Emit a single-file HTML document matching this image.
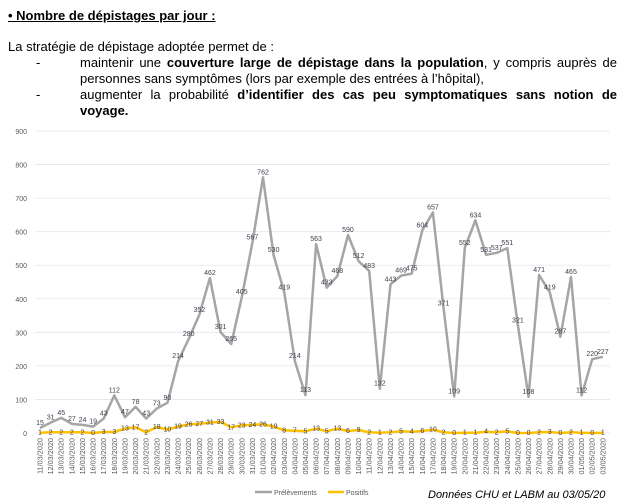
<!DOCTYPE html>
<html><head><meta charset="utf-8"><style>
body{margin:0;width:625px;height:502px;background:#fff;font-family:"Liberation Sans",sans-serif;color:#000;overflow:hidden;position:relative}
.t{position:absolute;font-size:13px;line-height:16px;white-space:nowrap}
</style></head><body>
<div class="t" style="left:8px;top:8px;font-weight:bold;text-decoration:underline">• Nombre de dépistages par jour :</div>
<div class="t" style="left:8px;top:39px">La stratégie de dépistage adoptée permet de :</div>
<div class="t" style="left:36px;top:55px">-</div>
<div class="t" style="left:80px;top:55px;width:537px;text-align:justify;text-align-last:justify">maintenir une <b>couverture large de dépistage dans la population</b>, y compris auprès de</div>
<div class="t" style="left:80px;top:71px">personnes sans symptômes (lors par exemple des entrées à l’hôpital),</div>
<div class="t" style="left:36px;top:87px">-</div>
<div class="t" style="left:80px;top:87px;width:537px;text-align:justify;text-align-last:justify">augmenter la probabilité <b>d’identifier des cas peu symptomatiques sans notion de</b></div>
<div class="t" style="left:80px;top:103px;font-weight:bold">voyage.</div>
<svg id="c" width="625" height="502" style="position:absolute;left:0;top:0"></svg>
<script>
var g=[15,31,45,27,24,19,43,112,47,78,43,73,90,214,280,352,462,301,265,405,567,762,530,419,214,113,563,433,468,590,512,483,132,443,469,475,604,657,371,109,552,634,531,537,551,321,108,471,419,287,465,112,220,227];
var yv=[1,2,2,2,2,0,3,3,13,17,2,18,10,19,26,27,31,33,17,23,24,26,19,8,7,5,13,5,13,6,9,2,1,2,5,4,6,10,2,0,1,1,4,2,5,0,0,2,3,0,2,1,0,1];
var s='';function X(i){return 40+i*10.62}function Y(v){return 433-v*302/900}
for(var k=0;k<=9;k++){var y=Y(k*100);s+='<line x1="35" x2="610" y1="'+y+'" y2="'+y+'" stroke="#e6e6e6" stroke-width="0.8"/><text x="27" y="'+(y+3)+'" font-size="7" fill="#595959" text-anchor="end">'+(k*100)+'</text>';}
for(var i=0;i<54;i++){var dt=i<21?(11+i)+'/03/2020':i<51?(i-20)+'/04/2020':(i-50)+'/05/2020';dt=(dt.length<10?'0':'')+dt;
var x=X(i);s+='<text transform="translate('+(x+2.5)+',438) rotate(-90)" font-size="7.3" fill="#595959" text-anchor="end">'+dt+'</text>';}
function pl(a,c,w){var p=a.map(function(v,i){return X(i).toFixed(1)+','+Y(v).toFixed(1)}).join(' ');return '<polyline points="'+p+'" fill="none" stroke="'+c+'" stroke-width="'+w+'" stroke-linejoin="round"/>';}
s+=pl(g,'#a5a5a5',2.5)+pl(yv,'#ffc000',2.5);
g.forEach(function(v,i){s+='<text x="'+X(i)+'" y="'+(Y(v)-3)+'" font-size="7" fill="#404050" text-anchor="middle">'+v+'</text>'});
yv.forEach(function(v,i){s+='<text x="'+X(i)+'" y="'+(Y(v)+2)+'" font-size="7" fill="#404050" text-anchor="middle">'+v+'</text>'});
s+='<line x1="255" x2="272" y1="492" y2="492" stroke="#a5a5a5" stroke-width="2.5"/><text x="274" y="495" font-size="7" fill="#595959">Prélèvements</text>';
s+='<line x1="328" x2="344" y1="492" y2="492" stroke="#ffc000" stroke-width="2.5"/><text x="346" y="495" font-size="7" fill="#595959">Positifs</text>';
s+='<text x="428" y="498" font-size="11" font-style="italic" fill="#000">Données CHU et LABM au  03/05/20</text>';
document.getElementById('c').innerHTML=s;
</script>
</body></html>
